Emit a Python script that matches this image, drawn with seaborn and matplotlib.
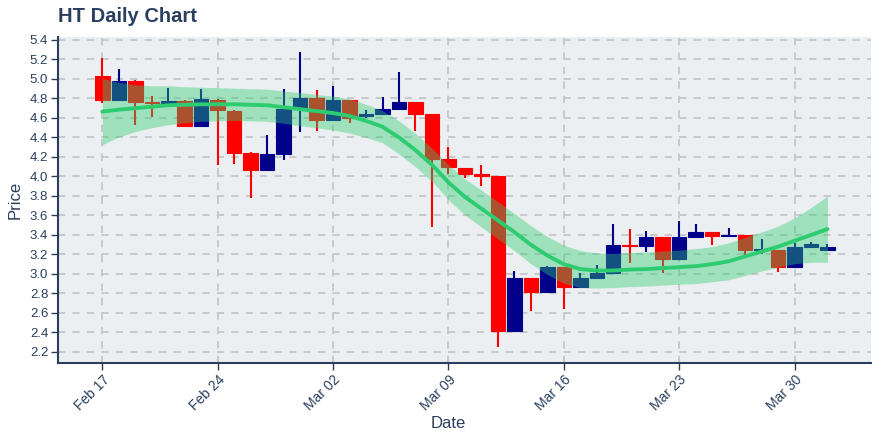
import matplotlib
matplotlib.use('Agg')
import numpy as np
import pandas as pd
import matplotlib.pyplot as plt
import matplotlib.dates as mdates
import seaborn as sns

# daily OHLC, Feb 17 - Apr 01 2020
dates = pd.date_range('2020-02-17', '2020-04-01', freq='D')
opens = [5.03, 4.78, 4.98, 4.76, 4.75, 4.77, 4.52, 4.78, 4.67, 4.24,
         4.07, 4.23, 4.69, 4.80, 4.58, 4.78, 4.62, 4.645, 4.69, 4.76,
         4.64, 4.18, 4.09, 4.02, 4.00, 2.42, 2.96, 2.82, 3.07, 2.87,
         2.96, 3.01, 3.30, 3.29, 3.38, 3.15, 3.38, 3.43, 3.39, 3.40,
         3.25, 3.25, 3.075, 3.28, 3.25]
highs = [5.21, 5.10, 4.99, 4.83, 4.91, 4.78, 4.90, 4.79, 4.68, 4.25,
         4.42, 4.90, 5.28, 4.89, 4.93, 4.78, 4.68, 4.81, 5.07, 4.76,
         4.64, 4.30, 4.09, 4.12, 4.00, 3.03, 2.96, 3.08, 3.07, 3.01,
         3.09, 3.51, 3.46, 3.44, 3.38, 3.54, 3.51, 3.43, 3.47, 3.40,
         3.36, 3.25, 3.32, 3.33, 3.305]
lows = [4.75, 4.77, 4.53, 4.61, 4.74, 4.51, 4.52, 4.12, 4.13, 3.78,
        4.06, 4.17, 4.46, 4.47, 4.57, 4.55, 4.60, 4.64, 4.69, 4.47,
        3.48, 4.02, 3.98, 3.90, 2.25, 2.42, 2.62, 2.82, 2.64, 2.87,
        2.96, 3.01, 3.11, 3.23, 3.01, 3.15, 3.375, 3.30, 3.38, 3.18,
        3.20, 3.02, 3.07, 3.28, 3.25]
closes = [4.78, 4.98, 4.76, 4.75, 4.77, 4.52, 4.79, 4.68, 4.24, 4.07,
          4.23, 4.69, 4.80, 4.58, 4.78, 4.60, 4.64, 4.69, 4.76, 4.645,
          4.18, 4.10, 4.02, 4.00, 2.42, 2.96, 2.82, 3.07, 2.87, 2.96,
          3.01, 3.30, 3.29, 3.38, 3.15, 3.38, 3.43, 3.39, 3.40, 3.25,
          3.255, 3.075, 3.28, 3.305, 3.275]

# smoothed trend and its band
trend = [4.665, 4.685, 4.70, 4.715, 4.73, 4.735, 4.74, 4.74, 4.74, 4.735,
         4.73, 4.71, 4.69, 4.67, 4.65, 4.62, 4.57, 4.51, 4.40, 4.27,
         4.12, 3.94, 3.79, 3.67, 3.55, 3.43, 3.30, 3.19, 3.10, 3.05,
         3.035, 3.035, 3.045, 3.05, 3.06, 3.07, 3.08, 3.10, 3.13, 3.18,
         3.23, 3.28, 3.34, 3.40, 3.46]
band_lo = [4.325, 4.405, 4.46, 4.50, 4.53, 4.55, 4.565, 4.57, 4.575, 4.57,
           4.565, 4.545, 4.52, 4.50, 4.475, 4.445, 4.40, 4.345, 4.23, 4.10,
           3.95, 3.76, 3.605, 3.48, 3.36, 3.24, 3.105, 2.995, 2.905, 2.86,
           2.855, 2.86, 2.87, 2.875, 2.885, 2.895, 2.90, 2.92, 2.94, 2.985,
           3.03, 3.07, 3.105, 3.12, 3.12]
band_hi = [5.005, 4.965, 4.94, 4.93, 4.93, 4.92, 4.915, 4.91, 4.905, 4.90,
           4.895, 4.875, 4.86, 4.84, 4.825, 4.795, 4.74, 4.675, 4.57, 4.44,
           4.29, 4.12, 3.975, 3.86, 3.74, 3.62, 3.495, 3.385, 3.295, 3.24,
           3.215, 3.21, 3.22, 3.225, 3.235, 3.245, 3.26, 3.28, 3.32, 3.375,
           3.43, 3.49, 3.575, 3.68, 3.80]

df = pd.DataFrame({'date': dates, 'open': opens, 'high': highs,
                   'low': lows, 'close': closes, 'trend': trend,
                   'lo': band_lo, 'hi': band_hi})

sns.set_style('whitegrid')
plt.rcParams['font.family'] = ['Liberation Sans', 'DejaVu Sans']

dark = '#2a3f5f'
up_col = '#00008b'
down_col = '#ff0000'
green = '#2ecc71'

fig = plt.figure(figsize=(8.8, 4.4), dpi=100)
ax = fig.add_axes([58 / 880, (440 - 362.7) / 440, (871 - 58) / 880, (362.7 - 37) / 440])
ax.set_facecolor('#eceff1')

cols = np.where(df['close'] >= df['open'], up_col, down_col)
body_lo = np.minimum(df['open'], df['close'])
body_h = np.abs(df['close'] - df['open'])

# wicks, then bodies
ax.vlines(df['date'], df['low'], df['high'], colors=cols, lw=1.5, zorder=2)
ax.bar(df['date'], body_h, bottom=body_lo, width=0.88, color=cols,
       edgecolor=cols, linewidth=0.8, zorder=3)

# band + trend drawn over the candles
ax.fill_between(df['date'], df['lo'], df['hi'], color=green, alpha=0.4,
                lw=0, zorder=4)
sns.lineplot(data=df, x='date', y='trend', color=green, lw=2.8, ax=ax, zorder=5)

ax.set_xlim(dates[0] - pd.Timedelta(days=2.69), dates[0] + pd.Timedelta(days=46.64))
ax.set_ylim(2.09, 5.43)
ax.set_yticks(np.arange(2.2, 5.41, 0.2))
ax.yaxis.set_major_formatter(plt.FuncFormatter(lambda v, p: f'{v:.1f}'))
ax.xaxis.set_major_locator(mdates.WeekdayLocator(byweekday=mdates.MO))
ax.xaxis.set_major_formatter(mdates.DateFormatter('%b %d'))

ax.grid(True, ls=(0, (4, 4)), color='#c4c6c8', lw=1.3)
ax.set_axisbelow(True)
for s in ['top', 'right']:
    ax.spines[s].set_visible(False)
for s in ['left', 'bottom']:
    ax.spines[s].set_color(dark)
    ax.spines[s].set_linewidth(1.5)

ax.tick_params(axis='both', direction='out', length=5, width=1, color=dark,
               labelcolor=dark, left=True, bottom=True)
ax.tick_params(axis='y', labelsize=9.5, pad=2)
ax.tick_params(axis='x', labelsize=10, pad=2)
for lab in ax.get_xticklabels():
    lab.set_rotation(45)
    lab.set_ha('right')
    lab.set_rotation_mode('anchor')

ax.set_xlabel('Date', fontsize=12, color=dark)
ax.set_ylabel('Price', fontsize=12, color=dark)
ax.xaxis.set_label_coords(0.48, -0.163)
ax.yaxis.set_label_coords(-0.043, 0.5)

fig.text(58 / 880, 1 - 16 / 440, 'HT Daily Chart', fontsize=14.5,
         fontweight='bold', color=dark, va='center', ha='left')

fig.savefig('out.png', dpi=100, facecolor='white')
